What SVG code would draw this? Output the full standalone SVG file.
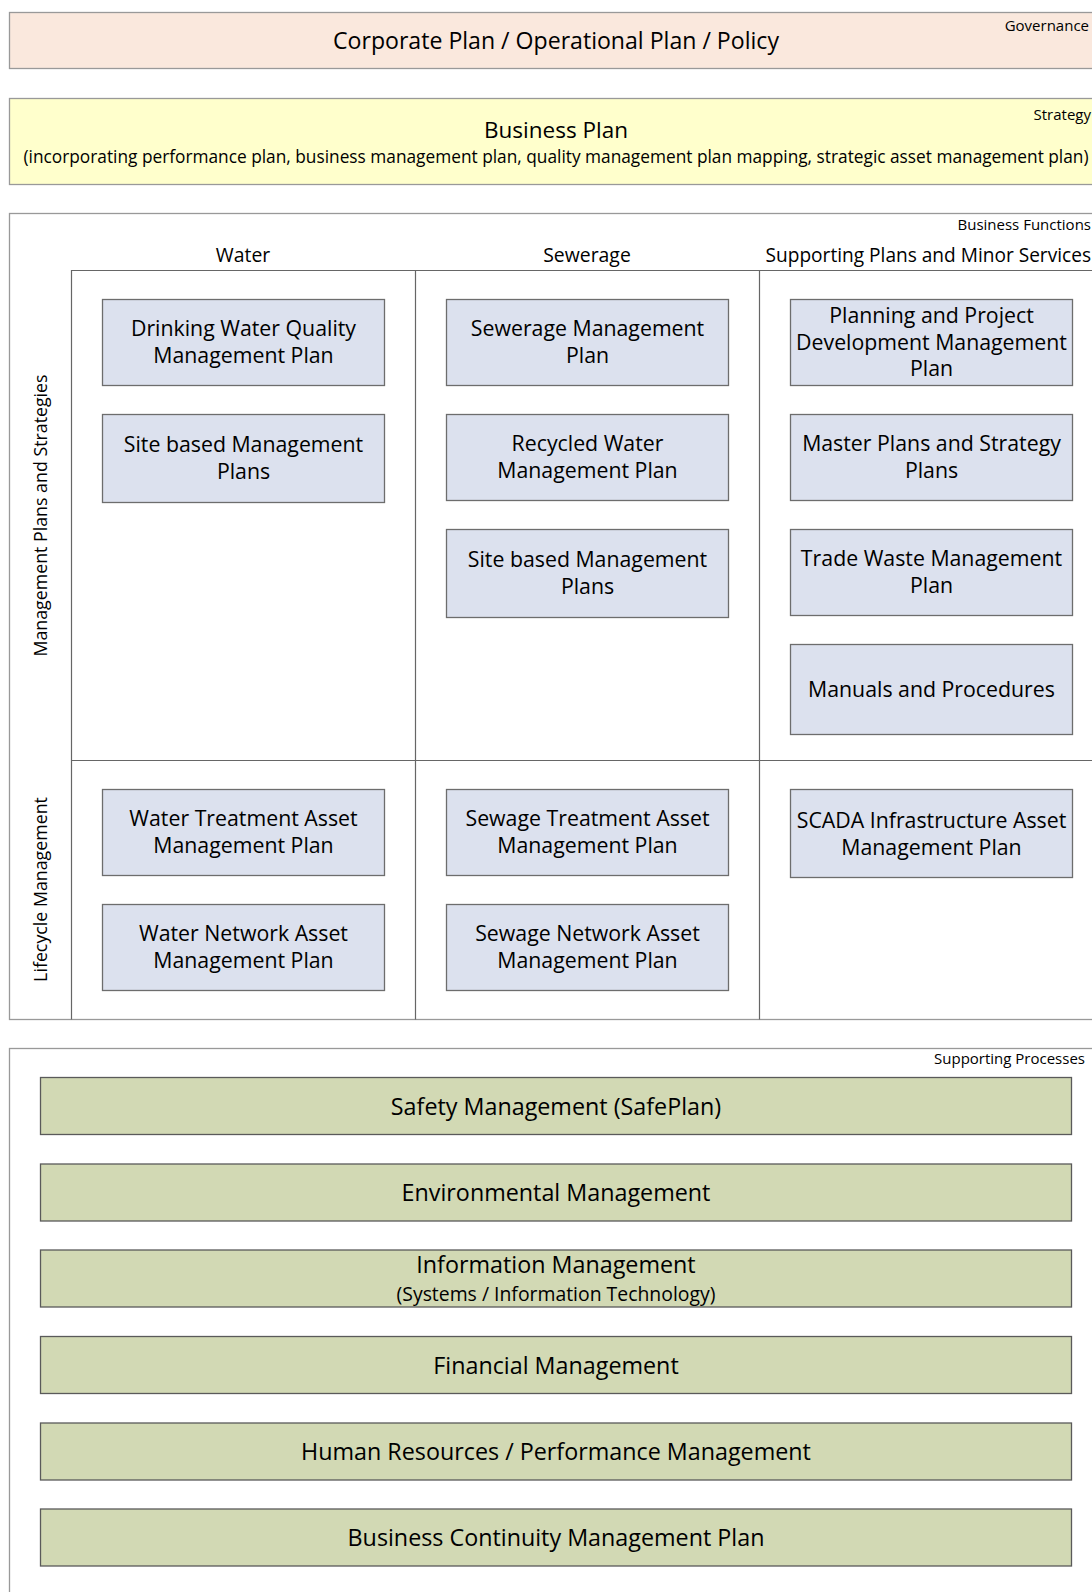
<svg xmlns="http://www.w3.org/2000/svg" width="1092" height="1592" viewBox="0 0 1092 1592">
<style>
text{font-family:"Open Sans",Lato,"Liberation Sans",sans-serif;fill:#000}
.big{font-size:23.1px;text-anchor:middle}
.bp{font-size:22.5px;text-anchor:middle}
.gt{font-size:23.3px;text-anchor:middle}
.node{font-size:21.3px;text-anchor:middle}
.sub{font-size:17.3px;text-anchor:middle}
.isub{font-size:19.4px;text-anchor:middle}
.tag{font-size:15px;text-anchor:end}
.hdr{font-size:19.4px;text-anchor:middle}
.vl{font-size:17.8px;text-anchor:middle}
.cont{stroke:#999;stroke-width:1.3}
.grid{stroke:#666;stroke-width:1.2;fill:none}
.box{fill:#dce1ee;stroke:#6d6d6d;stroke-width:1.3}
.gbox{fill:#d2d9b4;stroke:#5a5a5a;stroke-width:1.3}
</style>
<rect width="1092" height="1592" fill="#fff"/>
<g id="governance">
<rect class="cont" x="9.5" y="12.5" width="1100" height="56" fill="#fae8dd"/>
<text class="big" x="556" y="48.5">Corporate Plan / Operational Plan / Policy</text>
<text class="tag" x="1089" y="31">Governance</text>
</g>
<g id="strategy">
<rect class="cont" x="9.5" y="98.5" width="1100" height="86" fill="#ffffcc"/>
<text class="bp" x="556" y="138">Business Plan</text>
<text class="sub" x="556" y="162.5">(incorporating performance plan, business management plan, quality management plan mapping, strategic asset management plan)</text>
<text class="tag" x="1091" y="120">Strategy</text>
</g>
<g id="business-functions">
<rect class="cont" x="9.5" y="213.5" width="1100" height="806" fill="#fff"/>
<text class="tag" x="1091" y="230">Business Functions</text>
<text class="hdr" x="243" y="261.5">Water</text>
<text class="hdr" x="587" y="261.5">Sewerage</text>
<text class="hdr" x="1091" y="261.5" style="text-anchor:end;font-size:19.1px">Supporting Plans and Minor Services</text>
<path class="grid" d="M71.5 1019.5V270.5H1110M415.5 270.5V1019.5M759.5 270.5V1019.5M71.5 760.5H1110"/>
<text class="vl" transform="translate(47 515.5) rotate(-90)">Management Plans and Strategies</text>
<text class="vl" transform="translate(47 889.5) rotate(-90)">Lifecycle Management</text>
</g>
<g id="n-dwqmp"><rect class="box" x="102.5" y="299.5" width="282" height="86"/><text class="node" x="243.5" y="336">Drinking Water Quality</text><text class="node" x="243.5" y="362.5">Management Plan</text></g>
<g id="n-site-water"><rect class="box" x="102.5" y="414.5" width="282" height="88"/><text class="node" x="243.5" y="452">Site based Management</text><text class="node" x="243.5" y="478.5">Plans</text></g>
<g id="n-smp"><rect class="box" x="446.5" y="299.5" width="282" height="86"/><text class="node" x="587.5" y="336">Sewerage Management</text><text class="node" x="587.5" y="362.5">Plan</text></g>
<g id="n-rwmp"><rect class="box" x="446.5" y="414.5" width="282" height="86"/><text class="node" x="587.5" y="451">Recycled Water</text><text class="node" x="587.5" y="477.5">Management Plan</text></g>
<g id="n-site-sew"><rect class="box" x="446.5" y="529.5" width="282" height="88"/><text class="node" x="587.5" y="567">Site based Management</text><text class="node" x="587.5" y="593.5">Plans</text></g>
<g id="n-ppdmp"><rect class="box" x="790.5" y="299.5" width="282" height="86"/><text class="node" x="931.5" y="323">Planning and Project</text><text class="node" x="931.5" y="349.5">Development Management</text><text class="node" x="931.5" y="376">Plan</text></g>
<g id="n-master"><rect class="box" x="790.5" y="414.5" width="282" height="86"/><text class="node" x="931.5" y="451">Master Plans and Strategy</text><text class="node" x="931.5" y="477.5">Plans</text></g>
<g id="n-trade"><rect class="box" x="790.5" y="529.5" width="282" height="86"/><text class="node" x="931.5" y="566">Trade Waste Management</text><text class="node" x="931.5" y="592.5">Plan</text></g>
<g id="n-manuals"><rect class="box" x="790.5" y="644.5" width="282" height="90"/><text class="node" x="931.5" y="696.5">Manuals and Procedures</text></g>
<g id="n-wtamp"><rect class="box" x="102.5" y="789.5" width="282" height="86"/><text class="node" x="243.5" y="826">Water Treatment Asset</text><text class="node" x="243.5" y="852.5">Management Plan</text></g>
<g id="n-wnamp"><rect class="box" x="102.5" y="904.5" width="282" height="86"/><text class="node" x="243.5" y="941">Water Network Asset</text><text class="node" x="243.5" y="967.5">Management Plan</text></g>
<g id="n-stamp"><rect class="box" x="446.5" y="789.5" width="282" height="86"/><text class="node" x="587.5" y="826">Sewage Treatment Asset</text><text class="node" x="587.5" y="852.5">Management Plan</text></g>
<g id="n-snamp"><rect class="box" x="446.5" y="904.5" width="282" height="86"/><text class="node" x="587.5" y="941">Sewage Network Asset</text><text class="node" x="587.5" y="967.5">Management Plan</text></g>
<g id="n-scada"><rect class="box" x="790.5" y="789.5" width="282" height="88"/><text class="node" x="931.5" y="827.5">SCADA Infrastructure Asset</text><text class="node" x="931.5" y="854.5">Management Plan</text></g>
<g id="supporting-processes">
<rect class="cont" x="9.5" y="1048.5" width="1100" height="600" fill="#fff"/>
<text class="tag" x="1085" y="1064">Supporting Processes</text>
</g>
<g id="p-safety"><rect class="gbox" x="40.5" y="1077.5" width="1031" height="57"/><text class="gt" x="556" y="1114.5">Safety Management (SafePlan)</text></g>
<g id="p-env"><rect class="gbox" x="40.5" y="1164" width="1031" height="57"/><text class="gt" x="556" y="1201">Environmental Management</text></g>
<g id="p-info"><rect class="gbox" x="40.5" y="1250" width="1031" height="57"/><text class="gt" x="556" y="1272.5">Information Management</text><text class="isub" x="556" y="1300.5">(Systems / Information Technology)</text></g>
<g id="p-fin"><rect class="gbox" x="40.5" y="1336.5" width="1031" height="57"/><text class="gt" x="556" y="1373.5">Financial Management</text></g>
<g id="p-hr"><rect class="gbox" x="40.5" y="1423" width="1031" height="57"/><text class="gt" x="556" y="1460">Human Resources / Performance Management</text></g>
<g id="p-bcmp"><rect class="gbox" x="40.5" y="1509" width="1031" height="57"/><text class="gt" x="556" y="1546">Business Continuity Management Plan</text></g>
<g id="connectors"></g>
</svg>
